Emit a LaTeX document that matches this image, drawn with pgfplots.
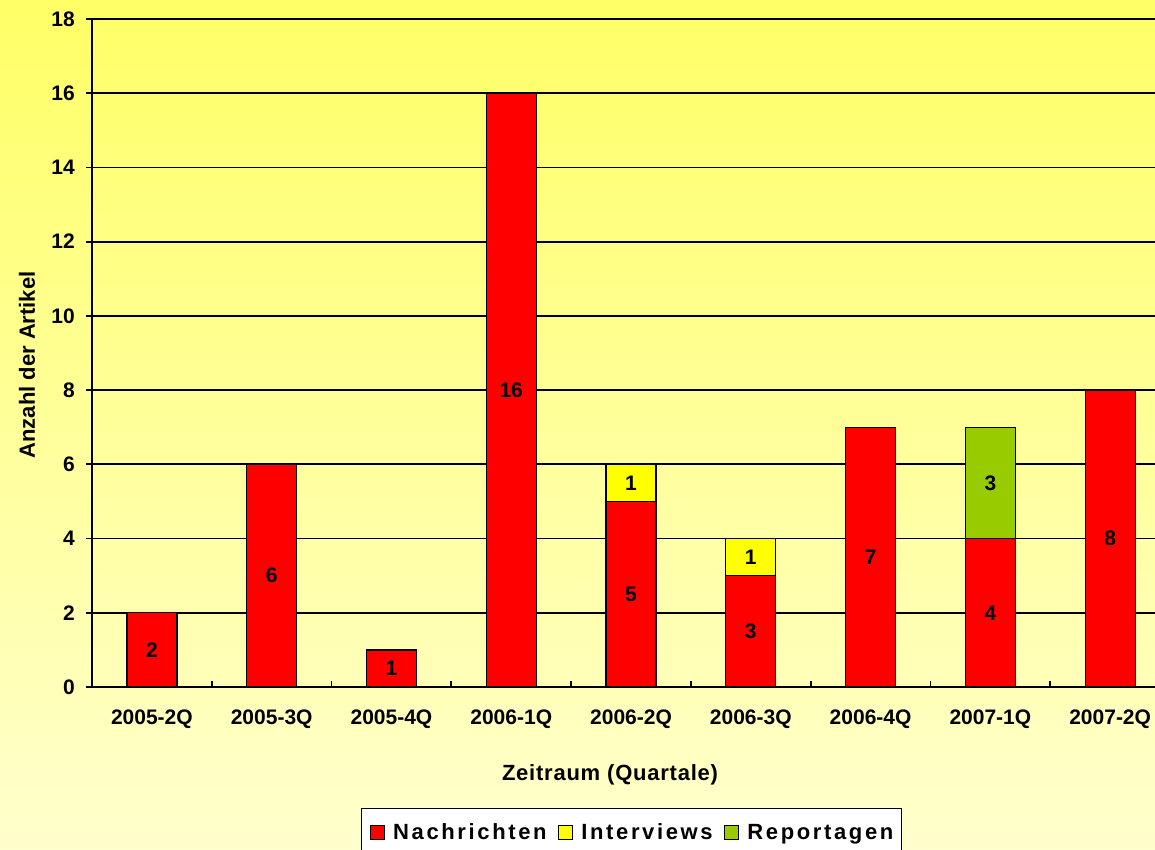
\documentclass[border=0pt]{standalone}
\usepackage{fontspec}
\setmainfont{Liberation Sans}
\newfontfamily\lsfont[LetterSpace=12]{Liberation Sans}
\newfontfamily\lbfont[LetterSpace=3.5]{Liberation Sans}
\usepackage{pgfplots}
\pgfplotsset{compat=1.18}
\usepackage{pgfplotstable}
\definecolor{bgtop}{RGB}{255,255,102}
\definecolor{bgbot}{RGB}{255,255,205}
\definecolor{nred}{RGB}{255,0,0}
\definecolor{iyel}{RGB}{255,255,0}
\definecolor{rgrn}{RGB}{153,204,0}
\newcommand{\bigbf}{\bfseries\fontsize{21}{21}\selectfont}
\newcommand{\xlabbf}{\lbfont\bfseries\fontsize{22}{22}\selectfont}
\newcommand{\ylabbf}{\bfseries\fontsize{22}{22}\selectfont}

\pgfplotstableread{
x nach inter rep
0 2 0 0
1 6 0 0
2 1 0 0
3 16 0 0
4 5 1 0
5 3 1 0
6 7 0 0
7 4 0 3
8 8 0 0
}\datatable

\pgfplotstableread{
x y lab
0 1 2
1 3 6
2 0.5 1
3 8 16
4 2.5 5
5 1.5 3
6 3.5 7
7 2 4
8 4 8
4 5.5 1
5 3.5 1
7 5.5 3
}\labeltable

\begin{document}
\begin{tikzpicture}[x=1pt,y=1pt]
\path[use as bounding box] (0,0) rectangle (1155,849);
\shade[top color=bgtop, bottom color=bgbot] (0,0) rectangle (1155,849);
\begin{axis}[
  at={(92pt,162pt)}, anchor=south west,
  scale only axis, width=1063pt, height=668pt,
  xmin=-0.5, xmax=8.375, ymin=0, ymax=18,
  ybar stacked, bar width=50pt,
  axis x line*=bottom, axis y line*=left,
  axis line style={line width=2.5pt,-},
  ymajorgrids, major grid style={black, line width=1.8pt},
  tick align=inside,
  ytick={0,2,...,18},
  ytick style={black, line width=1.8pt, xshift=-6pt},
  major tick length=6pt,
  xtick={0.5,1.5,...,7.5}, xticklabels={},
  xtick style={black, line width=1.8pt},
  extra x ticks={0,1,...,8},
  extra x tick labels={2005-2Q,2005-3Q,2005-4Q,2006-1Q,2006-2Q,2006-3Q,2006-4Q,2007-1Q,2007-2Q},
  extra x tick style={major tick length=0pt},
  xticklabel style={font=\bigbf, inner sep=0pt, anchor=north, yshift=-23pt},
  yticklabel style={font=\bigbf, inner sep=0pt, anchor=east, xshift=-17pt},
  /pgf/number format/assume math mode=true,
  xlabel={Zeitraum (Quartale)},
  xlabel style={at={(axis description cs:0.4873,-0.1317)}, anchor=center, font=\xlabbf},
  ylabel={Anzahl der Artikel},
  ylabel style={at={(axis description cs:-0.0611,0.482)}, anchor=center, font=\ylabbf},
  legend columns=3,
  legend style={at={(axis description cs:0.2528,-0.1811)}, anchor=north west,
    draw=black, line width=1.5pt, fill=white, inner xsep=8pt, inner ysep=15pt,
    font=\lsfont\bfseries\fontsize{22}{22}\selectfont,
    nodes={inner sep=0pt},
    /tikz/every even column/.append style={column sep=11pt}},
  legend image code/.code={%
    \draw[#1, draw=black, line width=1.3pt] (0pt,-7pt) rectangle (14pt,7pt);
    \path[draw=none, fill=none] (0pt,-20pt) rectangle (23pt,0.1pt);},
]
\addplot[fill=nred, draw=black, line width=1.3pt] table[x=x, y=nach] {\datatable};
\addlegendentry{Nachrichten}
\addplot[fill=iyel, draw=black, line width=1.3pt] table[x=x, y=inter] {\datatable};
\addlegendentry{Interviews}
\addplot[fill=rgrn, draw=black, line width=1.3pt] table[x=x, y=rep] {\datatable};
\addlegendentry{Reportagen}
\end{axis}
\begin{axis}[
  at={(92pt,162pt)}, anchor=south west,
  scale only axis, width=1063pt, height=668pt,
  xmin=-0.5, xmax=8.375, ymin=0, ymax=18,
  hide axis, clip=false,
]
\addplot[only marks, mark=none, nodes near coords, point meta=explicit symbolic,
  nodes near coords style={anchor=center, font=\bigbf, inner sep=0pt}]
  table[x=x, y=y, meta=lab] {\labeltable};
\end{axis}
\end{tikzpicture}
\end{document}
